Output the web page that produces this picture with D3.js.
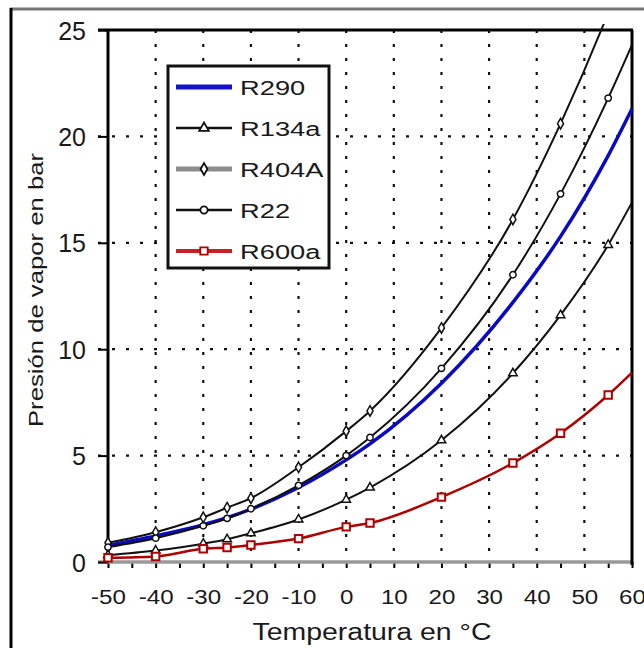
<!DOCTYPE html>
<html>
<head>
<meta charset="utf-8">
<script src="https://cdnjs.cloudflare.com/ajax/libs/d3/7.8.5/d3.min.js"></script>
<style>
  body { margin: 0; background: #fff; }
  svg { display: block; }
  text { font-family: "Liberation Sans", Arial, sans-serif; fill: #1a1a1a; }
</style>
</head>
<body>
<svg id="chart" width="644" height="648"></svg>
<script>
// temperatures (°C) where the table gives a value
const temps = [-50, -40, -30, -25, -20, -10, 0, 5, 20, 35, 45, 55, 60];
// temperatures that carry a marker
const markerTemps = [-50, -40, -30, -25, -20, -10, 0, 5, 20, 35, 45, 55];

// vapour pressure in bar
const r290  = [0.78, 1.22, 1.75, 2.08, 2.48, 3.5, 4.8, 5.55, 8.4, 12.2, 15.3, 19.1, 21.3];
const r134a = [0.32, 0.54, 0.86, 1.07, 1.35, 2.0, 2.93, 3.5, 5.72, 8.87, 11.6, 14.9, 16.9];
const r404a = [0.9, 1.4, 2.1, 2.55, 3.0, 4.45, 6.15, 7.1, 11.0, 16.1, 20.6, 25.8, 28.7];
const r22   = [0.7, 1.12, 1.7, 2.05, 2.5, 3.6, 5.0, 5.85, 9.1, 13.5, 17.3, 21.8, 24.3];
const r600a = [0.2, 0.26, 0.62, 0.68, 0.8, 1.1, 1.65, 1.83, 3.05, 4.65, 6.05, 7.85, 8.9];

const seriesNames = ["R290", "R134a", "R404A", "R22", "R600a"];
const xTicks = [-50, -40, -30, -20, -10, 0, 10, 20, 30, 40, 50, 60];
const xMinorTicks = [-50, -45, -40, -35, -30, -25, -20, -15, -10, -5, 0, 5, 10, 15, 20, 25, 30, 35, 40, 45, 50, 55, 60];
const yTicks = [0, 5, 10, 15, 20, 25];

const series = [
  { name: "R290",  values: r290,  color: "#0a0ac4", width: 3.5, symbol: null },
  { name: "R134a", values: r134a, color: "#111",    width: 2,   symbol: d3.symbolTriangle },
  { name: "R404A", values: r404a, color: "#111",    width: 2,   symbol: d3.symbolDiamond },
  { name: "R22",   values: r22,   color: "#111",    width: 2,   symbol: d3.symbolCircle },
  { name: "R600a", values: r600a, color: "#b00000", width: 2.5, symbol: d3.symbolSquare }
];
// legend look differs a little from the curves (R404A is grey there)
const legendStyle = {
  R290:  { color: "#1414cc", width: 5 },
  R134a: { color: "#111",    width: 2.5 },
  R404A: { color: "#8c8c8c", width: 5 },
  R22:   { color: "#111",    width: 2.5 },
  R600a: { color: "#cc2020", width: 4 }
};

const svg = d3.select("#chart");
const plotLeft = 108, plotRight = 632, plotTop = 30, plotBottom = 562;

const x = d3.scaleLinear().domain([-50, 60]).range([plotLeft, plotRight]);
const y = d3.scaleLinear().domain([0, 25]).range([plotBottom, plotTop]);

// outer picture frame
svg.append("line").attr("x1", 10).attr("x2", 644).attr("y1", 9).attr("y2", 9)
  .attr("stroke", "#777").attr("stroke-width", 3);
svg.append("line").attr("x1", 11).attr("x2", 11).attr("y1", 8).attr("y2", 648)
  .attr("stroke", "#000").attr("stroke-width", 3);

// dotted grid
const grid = svg.append("g").attr("stroke", "#111").attr("stroke-width", 2.2)
  .attr("stroke-dasharray", "3,11");
grid.selectAll(".vg").data(xTicks.filter(d => d > -50 && d < 60)).enter()
  .append("line")
  .attr("x1", d => x(d)).attr("x2", d => x(d))
  .attr("y1", plotTop).attr("y2", plotBottom);
grid.selectAll(".hg").data(yTicks.filter(d => d > 0 && d < 25)).enter()
  .append("line")
  .attr("x1", plotLeft - 10).attr("x2", plotRight)
  .attr("y1", d => y(d)).attr("y2", d => y(d));

// x axis: grey base line, minor ticks every 5°C
const xAxis = svg.append("g").attr("transform", "translate(0," + plotBottom + ")")
  .call(d3.axisBottom(x).tickValues(xMinorTicks).tickSize(6).tickFormat(""));
xAxis.select(".domain").remove();
xAxis.selectAll(".tick line").attr("stroke", "#000").attr("stroke-width", 2);
svg.append("line").attr("x1", plotLeft - 10).attr("x2", plotRight).attr("y1", plotBottom).attr("y2", plotBottom)
  .attr("stroke", "#999").attr("stroke-width", 3.5);

const xLabels = svg.append("g").attr("transform", "translate(0," + plotBottom + ")")
  .call(d3.axisBottom(x).tickValues(xTicks).tickSize(0).tickPadding(0)
    .tickFormat(d => String(d)));
xLabels.select(".domain").remove();
xLabels.selectAll(".tick text")
  .attr("y", 42).attr("dy", 0)
  .attr("font-size", 21)
  .attr("transform", "scale(1.15,1)");

// y axis
const yAxis = svg.append("g").attr("transform", "translate(" + plotLeft + ",0)")
  .call(d3.axisLeft(y).tickValues(yTicks).tickSize(10).tickPadding(12));
yAxis.select(".domain").remove();
yAxis.selectAll(".tick line").attr("stroke", "#000").attr("stroke-width", 2);
yAxis.selectAll(".tick text").attr("font-size", 25).attr("dy", "0.36em");

// plot frame
svg.append("line").attr("x1", plotLeft - 10).attr("x2", plotRight + 1).attr("y1", plotTop).attr("y2", plotTop)
  .attr("stroke", "#000").attr("stroke-width", 3);
svg.append("line").attr("x1", plotLeft).attr("x2", plotLeft).attr("y1", plotTop).attr("y2", plotBottom)
  .attr("stroke", "#000").attr("stroke-width", 3);
svg.append("line").attr("x1", plotRight).attr("x2", plotRight).attr("y1", plotTop).attr("y2", plotBottom + 3)
  .attr("stroke", "#000").attr("stroke-width", 3);

// curves
svg.append("clipPath").attr("id", "plot-clip").append("rect")
  .attr("x", plotLeft - 8).attr("y", plotTop - 6)
  .attr("width", plotRight - plotLeft + 14).attr("height", plotBottom - plotTop + 12);

const line = d3.line()
  .x(d => x(d.t))
  .y(d => y(d.v))
  .curve(d3.curveMonotoneX);

const plot = svg.append("g").attr("clip-path", "url(#plot-clip)");
series.forEach(s => {
  const pts = temps.map((t, i) => ({ t: t, v: s.values[i] }));
  plot.append("path")
    .datum(pts)
    .attr("fill", "none")
    .attr("stroke", s.color)
    .attr("stroke-width", s.width)
    .attr("d", line);
  if (s.symbol) {
    plot.selectAll(null)
      .data(pts.filter(p => markerTemps.includes(p.t)))
      .enter().append("path")
      .attr("d", d3.symbol().type(s.symbol).size(s.name === "R600a" ? 55 : 32))
      .attr("transform", d => "translate(" + x(d.t) + "," + y(d.v) + ")")
      .attr("fill", "#fff")
      .attr("stroke", s.color)
      .attr("stroke-width", s.name === "R600a" ? 2 : 1.5);
  }
});

// legend
const legend = svg.append("g");
legend.append("rect")
  .attr("x", 168).attr("y", 66).attr("width", 161).attr("height", 202)
  .attr("fill", "#fff").attr("stroke", "#111").attr("stroke-width", 3);

const legendRows = legend.selectAll(".row").data(series).enter().append("g")
  .attr("transform", (d, i) => "translate(176," + (87 + i * 41) + ")");
legendRows.append("line")
  .attr("x1", 0).attr("x2", 56)
  .attr("stroke", d => legendStyle[d.name].color)
  .attr("stroke-width", d => legendStyle[d.name].width);
legendRows.filter(d => d.symbol).append("path")
  .attr("d", d => d3.symbol().type(d.symbol).size(d.name === "R600a" ? 55 : 40)())
  .attr("transform", "translate(28,0)")
  .attr("fill", "#fff")
  .attr("stroke", d => d.name === "R600a" ? "#b00000" : "#111")
  .attr("stroke-width", 1.8);
legendRows.append("text")
  .attr("transform", "translate(64,8) scale(1.3,1)")
  .attr("font-size", 21)
  .text(d => d.name);

// axis titles
svg.append("text")
  .attr("x", 372).attr("y", 640)
  .attr("text-anchor", "middle")
  .attr("font-size", 23)
  .attr("textLength", 239).attr("lengthAdjust", "spacingAndGlyphs")
  .text("Temperatura en °C");

svg.append("text")
  .attr("transform", "translate(43,290) rotate(-90)")
  .attr("text-anchor", "middle")
  .attr("font-size", 21)
  .attr("textLength", 274).attr("lengthAdjust", "spacingAndGlyphs")
  .text("Presión de vapor en bar");
</script>
</body>
</html>
